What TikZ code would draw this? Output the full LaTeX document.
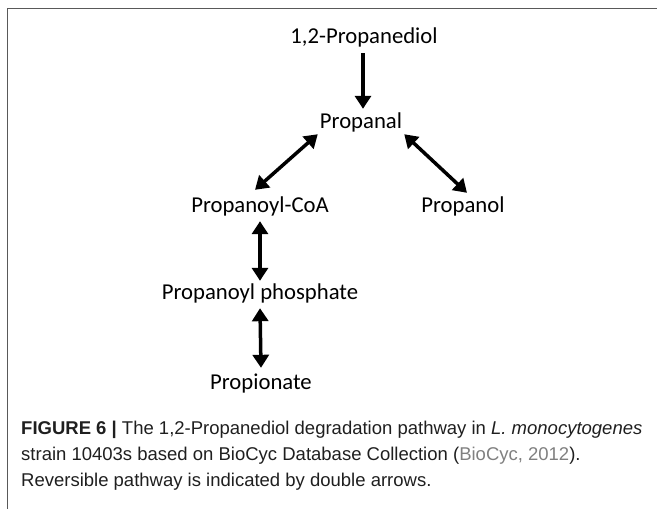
\documentclass[tikz,border=0pt]{standalone}
\usepackage{fontspec}
\setmainfont{Carlito}
\newfontfamily\capfont{Liberation Sans}
\usetikzlibrary{arrows.meta}
\begin{document}
\begin{tikzpicture}[x=1pt,y=-1pt,
  chem/.style={inner sep=0pt,anchor=base,text height=15pt,text depth=5pt,font=\fontsize{22.7}{27}\selectfont},
  onearrow/.style={line width=3.5pt,-{Triangle[width=16pt,length=13pt]}},
  twoarrow/.style={line width=3.5pt,{Triangle[width=16pt,length=13pt]}-{Triangle[width=16pt,length=13pt]}},
  capline/.style={inner sep=0pt,anchor=base west,text=black!88,font=\capfont\fontsize{18.5}{22}\selectfont},
  frame/.style={draw=black!65,line width=1.5pt}]
\useasboundingbox (0,0) rectangle (657,509);
\draw[frame] (657,8.5) -- (7.5,8.5) -- (7.5,509);
\node[chem] (pd) at (364,43) {1,2-Propanediol};
\node[chem] (pl) at (361,128) {Propanal};
\node[chem] (coa) at (260,212) {Propanoyl-CoA};
\node[chem] (pol) at (463,212) {Propanol};
\node[chem] (pp) at (260,299) {Propanoyl phosphate};
\node[chem] (pn) at (261,389) {Propionate};
\draw[onearrow] ([xshift=-1pt,yshift=-5pt]pd.south) -- ([xshift=2pt,yshift=4pt]pl.north);
\draw[twoarrow] ([xshift=-2pt,yshift=-1pt]pl.south west) -- ([xshift=-5pt,yshift=7pt]coa.north);
\draw[twoarrow] ([xshift=2pt,yshift=-1pt]pl.south east) -- ([xshift=4pt,yshift=4pt]pol.north);
\draw[twoarrow] ([yshift=-4pt]coa.south) -- ([yshift=3pt]pp.north);
\draw[twoarrow] ([yshift=-4pt]pp.south) -- ([yshift=6pt]pn.north);
\node[capline] (c1) at (21,434) {\textbf{FIGURE 6 |} The 1,2-Propanediol degradation pathway in \textit{L. monocytogenes}};
\node[capline] (c2) at (21,460) {strain 10403s based on BioCyc Database Collection ({\color{black!50}BioCyc, 2012}).};
\node[capline] (c3) at (21,486) {Reversible pathway is indicated by double arrows.};
\end{tikzpicture}
\end{document}
